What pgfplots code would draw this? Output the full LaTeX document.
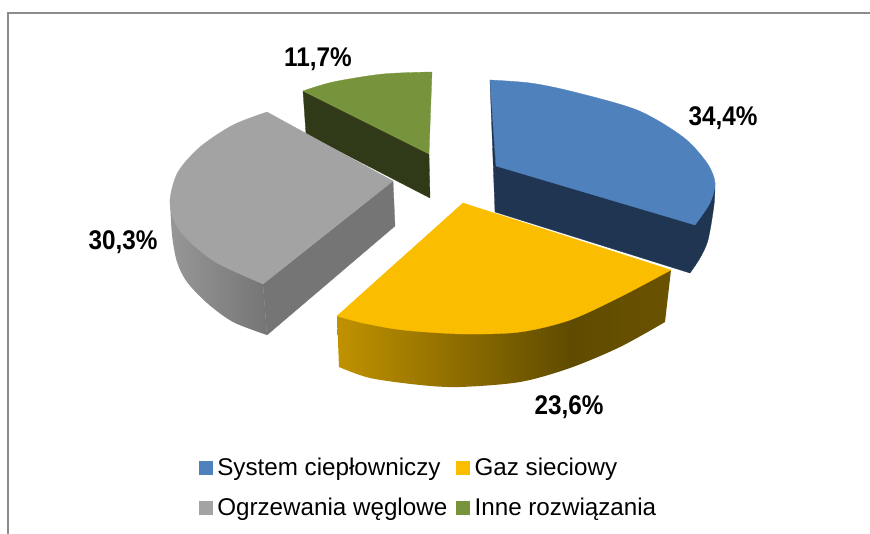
\documentclass[border=0pt]{standalone}
\usepackage{pgfplots}
\pgfplotsset{compat=1.18}
\usepackage{fontspec}
\setmainfont{Liberation Sans}
\definecolor{cblue}{HTML}{4F81BD}
\definecolor{cblued}{HTML}{1F3552}
\definecolor{cyel}{HTML}{FBBD00}
\definecolor{cgray}{HTML}{A3A3A3}
\definecolor{cgrayd}{HTML}{757575}
\definecolor{cgre}{HTML}{77933C}
\definecolor{cgred}{HTML}{303A18}
\definecolor{yA}{HTML}{C09200}
\definecolor{yB}{HTML}{5F4B00}
\definecolor{yC}{HTML}{6A5200}
\definecolor{gA}{HTML}{979797}
\definecolor{gB}{HTML}{757575}
\pgfdeclarehorizontalshading{yelside}{100bp}{color(0bp)=(yA); color(25bp)=(yA); color(60bp)=(yB); color(75bp)=(yC); color(100bp)=(yC)}
\pgfdeclarehorizontalshading{graside}{100bp}{color(0bp)=(gA); color(25bp)=(gA); color(75bp)=(gB); color(100bp)=(gB)}
\pgfplotsset{face/.style={forget plot,fill=#1,draw=#1,line width=0.3pt}}
\newcommand{\lab}[2]{\node[font=\fontsize{27}{29}\selectfont\bfseries] at (axis cs:#1) {\scalebox{0.9}[1]{#2}};}
\begin{document}
\begin{tikzpicture}
\path[use as bounding box] (0,0) rectangle (870pt,534pt);
\begin{axis}[at={(0,0)},anchor=south west,scale only axis,width=870pt,height=534pt,
  xmin=0,xmax=870,ymin=0,ymax=534,y dir=reverse,hide axis,clip=true,
  legend columns=2,legend cell align=left,
  legend style={at={(axis cs:199,456)},anchor=north west,draw=none,fill=none,
    font=\fontsize{24.2}{26}\selectfont,column sep=0pt,row sep=17pt,inner sep=0pt,outer sep=0pt,
    /tikz/every odd column/.append style={column sep=3pt},
    /tikz/every even column/.append style={column sep=7pt}},
  legend image code/.code={\fill[#1] (0pt,-6.5pt) rectangle (13pt,6.5pt);},
]
% dark sides
\addplot[face=cgred] coordinates {(303,91)(429,154)(430,198)(306,134)} --cycle;
\addplot[face=cblued,smooth] coordinates {(715,183)(714,205)(708,240)(700,258)(690,273)} -- (axis cs:495,212) -- (axis cs:490,80) -- cycle;
\addplot[forget plot,draw=none,shade,shading=yelside,smooth] coordinates {(339,367)(370,378)(420,385)(460,387)(520,382)(570,368)(620,347)(665,322)} -- (axis cs:671,270) -- (axis cs:337,316) -- cycle;
\addplot[forget plot,draw=none,shade,shading=graside,smooth] coordinates {(170,200)(172,235)(177,262)(187,282)(207,303)(233,322)(267,335)} -- (axis cs:263,284) -- cycle;
\addplot[face=cgrayd] coordinates {(263,284)(393,181)(395,226)(267,335)} --cycle;
% tops
\addplot[fill=cblue,draw=cblue,line width=0.3pt,smooth] coordinates {(490,80)(530,83)(570,91)(637,110)(683,137)(707,163)(715,183)(710,203)(695,225)} -- (axis cs:496,166) -- cycle;
\addlegendentry{System ciepłowniczy}
\addplot[fill=cyel,draw=cyel,line width=0.3pt,smooth] coordinates {(671,270)(620,297)(570,320)(520,332)(463,334)(403,330)(363,323)(337,316)} -- (axis cs:463,203) -- cycle;
\addlegendentry{Gaz sieciowy}
\addplot[fill=cgray,draw=cgray,line width=0.3pt,smooth] coordinates {(267,112)(233,125)(200,147)(178,172)(170,200)(175,223)(190,242)(217,263)(263,284)} -- (axis cs:393,181) -- cycle;
\addlegendentry{Ogrzewania węglowe}
\addplot[fill=cgre,draw=cgre,line width=0.3pt,smooth] coordinates {(303,91)(333,82)(383,74)(432,72)} -- (axis cs:429,154) -- cycle;
\addlegendentry{Inne rozwiązania}
\draw[color=gray!90,line width=2.2pt] (axis cs:870,13) -- (axis cs:8,13) -- (axis cs:8,534);
\lab{723,118}{34,4\%}
\lab{569,407}{23,6\%}
\lab{123,242}{30,3\%}
\lab{318,59}{11,7\%}
\end{axis}
\end{tikzpicture}
\end{document}
